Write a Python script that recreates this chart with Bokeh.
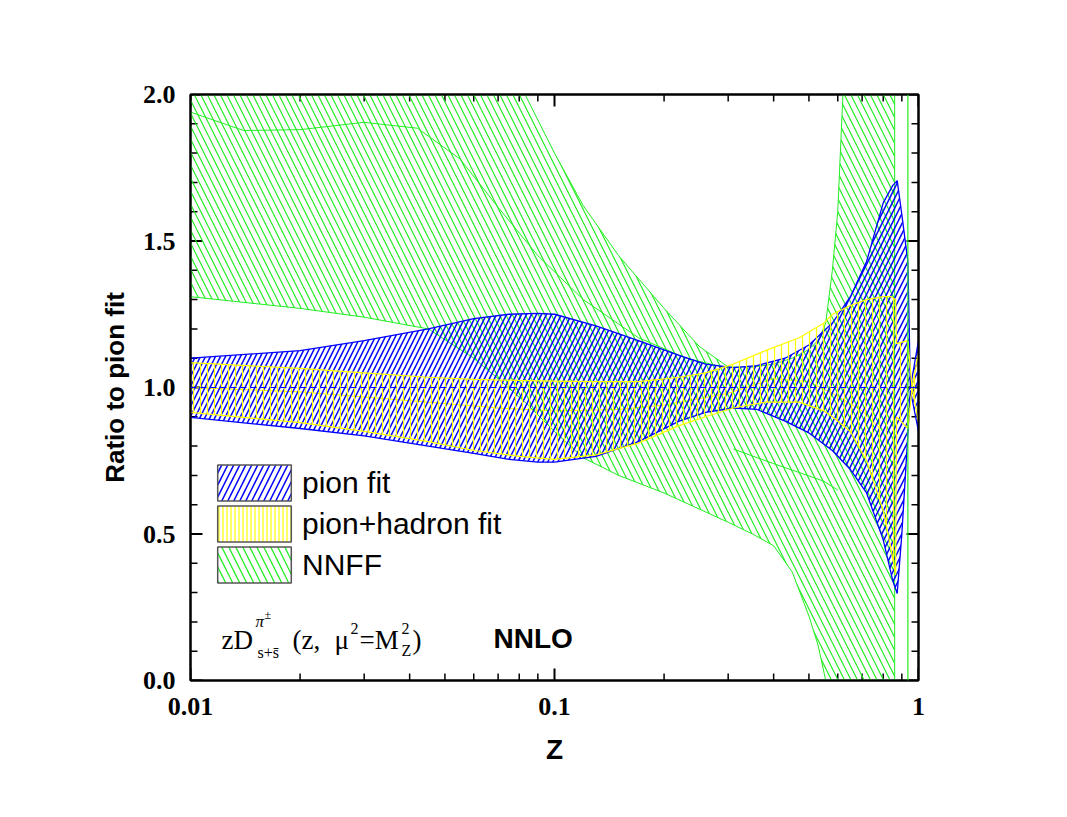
from bokeh.plotting import figure
from bokeh.models import (Range1d, LogAxis, LinearAxis, FixedTicker, Legend,
                          LegendItem, Label, Span)
from bokeh.embed import file_html
from bokeh.resources import INLINE

# ---------------- data ----------------
# pion fit band (ratio to pion fit central)
pion_z = [0.01, 0.02, 0.03, 0.045, 0.06, 0.075, 0.09, 0.1, 0.13, 0.17, 0.22, 0.26,
          0.31, 0.36, 0.43, 0.5, 0.58, 0.65, 0.72, 0.8, 0.85, 0.874, 0.9, 0.935,
          0.95, 1.0]
pion_upper = [1.10, 1.126, 1.16, 1.20, 1.235, 1.25, 1.253, 1.25, 1.21, 1.16, 1.11, 1.08,
              1.068, 1.075, 1.10, 1.145, 1.22, 1.31, 1.43, 1.63, 1.69, 1.706, 1.59, 1.43,
              1.0, 1.16]
pion_lower = [0.898, 0.86, 0.835, 0.80, 0.775, 0.755, 0.745, 0.745, 0.765, 0.815, 0.885, 0.915,
              0.93, 0.925, 0.885, 0.845, 0.785, 0.72, 0.64, 0.48, 0.34, 0.297, 0.5, 0.84,
              0.99, 0.85]
pion_central_value = 1.0

# pion+hadron fit band
ph_z = [0.01, 0.02, 0.03, 0.045, 0.06, 0.08, 0.1, 0.13, 0.17, 0.22, 0.26, 0.31, 0.38,
        0.47, 0.55, 0.58, 0.65, 0.72, 0.8, 0.84, 0.865, 0.87, 0.935, 0.96, 1.0]
ph_upper = [1.085, 1.065, 1.05, 1.035, 1.028, 1.024, 1.022, 1.02, 1.02, 1.035, 1.05, 1.08, 1.126,
            1.17, 1.22, 1.25, 1.28, 1.30, 1.31, 1.31, 1.30, 1.15, 1.16, 1.0, 1.12]
ph_lower = [0.915, 0.88, 0.85, 0.815, 0.785, 0.765, 0.755, 0.77, 0.81, 0.87, 0.90, 0.93, 0.95,
            0.95, 0.92, 0.9, 0.85, 0.75, 0.58, 0.45, 0.36, 0.9, 0.86, 1.0, 0.88]
ph_central_z = [0.01, 0.02, 0.04, 0.07, 0.1, 0.15, 0.2, 0.3, 0.4, 0.5, 0.6, 0.7, 0.8]
ph_central = [1.0, 0.985, 0.955, 0.93, 0.92, 0.925, 0.94, 0.98, 1.03, 1.02, 0.97, 0.92, 0.85]

# NNFF band (values outside 0..2 are clipped by the frame)
nnff_z = [0.01, 0.02, 0.03, 0.045, 0.06, 0.07, 0.083, 0.1, 0.12, 0.15, 0.2, 0.25, 0.3,
          0.35, 0.4, 0.45, 0.5, 0.53, 0.556, 0.58, 0.6, 0.62, 0.7, 0.8, 0.86]
nnff_upper = [2.5, 2.5, 2.5, 2.5, 2.45, 2.2, 2.0, 1.8, 1.62, 1.45, 1.27, 1.14, 1.07,
              1.07, 1.08, 1.10, 1.13, 1.16, 1.22, 1.4, 1.6, 2.0, 2.5, 2.5, 2.5]
nnff_lower = [1.31, 1.27, 1.24, 1.20, 1.10, 1.03, 0.95, 0.85, 0.76, 0.70, 0.64, 0.585, 0.54,
              0.50, 0.46, 0.37, 0.22, 0.12, 0.0, -0.3, -0.3, -0.3, -0.3, -0.3, -0.3]
nnff_inner_a_z = [0.01, 0.014, 0.02, 0.03, 0.042, 0.055, 0.07, 0.09, 0.12, 0.17, 0.23, 0.29]
nnff_inner_a = [1.94, 1.877, 1.88, 1.905, 1.885, 1.78, 1.615, 1.45, 1.3, 1.17, 1.1, 1.07]
nnff_inner_b_z = [0.31, 0.4, 0.47, 0.55, 0.6]
nnff_inner_b = [0.79, 0.74, 0.71, 0.68, 0.65]
nnff_spike_z = 0.935

# axes
x_ticks = [0.01, 0.1, 1.0]
x_tick_labels = ["0.01", "0.1", "1"]
x_minor = [0.02, 0.03, 0.04, 0.05, 0.06, 0.07, 0.08, 0.09,
           0.2, 0.3, 0.4, 0.5, 0.6, 0.7, 0.8, 0.9]
y_ticks = [0.0, 0.5, 1.0, 1.5, 2.0]
y_tick_labels = ["0.0", "0.5", "1.0", "1.5", "2.0"]
y_minor = [0.1, 0.2, 0.3, 0.4, 0.6, 0.7, 0.8, 0.9, 1.1, 1.2, 1.3, 1.4, 1.6, 1.7, 1.8, 1.9]

BLUE = "#0000ff"
YELLOW = "#ffff00"
GREEN = "#22ee22"

FW, FH = 728, 586            # frame size in px
X0, X1, Y0, Y1 = 0.01, 1.0, 0.0, 2.0
PX_DEC = FW / 2.0            # px per decade
PX_UNIT = FH / (Y1 - Y0)     # px per y unit

p = figure(x_axis_type="log", x_range=Range1d(X0, X1), y_range=Range1d(Y0, Y1),
           frame_width=FW, frame_height=FH, min_border_left=190, min_border_top=94,
           min_border_right=125, min_border_bottom=110,
           output_backend="svg", toolbar_location=None, background_fill_color="white")
p.xgrid.grid_line_color = None
p.ygrid.grid_line_color = None
p.outline_line_color = "black"
p.outline_line_width = 2

# inward tick marks on all four sides (drawn first): thin filled rects centred on
# the frame edges; the outer half of each rect is clipped away by the frame
MAJ, MIN = 12, 7
for ticks, ln, w in ((x_ticks, MAJ, 2), (x_minor, MIN, 1.5)):
    for edge in (Y0, Y1):
        p.rect(x=ticks, y=[edge] * len(ticks), width=w, height=2 * ln,
               width_units="screen", height_units="screen",
               fill_color="black", line_color=None)
for ticks, ln, w in ((y_ticks, MAJ, 2), (y_minor, MIN, 1.5)):
    for edge in (X0, X1):
        p.rect(x=[edge] * len(ticks), y=ticks, width=2 * ln, height=w,
               width_units="screen", height_units="screen",
               fill_color="black", line_color=None)


def band(z, up, lo):
    return list(z) + list(z)[::-1], list(up) + list(lo)[::-1]


nx, ny = band(nnff_z, nnff_upper, nnff_lower)
bx, by = band(pion_z, pion_upper, pion_lower)
yx, yy = band(ph_z, ph_upper, ph_lower)

p.line(nnff_inner_a_z, nnff_inner_a, line_color=GREEN, line_width=1)
p.line(nnff_inner_b_z, nnff_inner_b, line_color=GREEN, line_width=1)
p.line(ph_central_z, ph_central, line_color=YELLOW, line_width=1)

p.patch(nx, ny, fill_alpha=0, line_color=GREEN, line_width=1,
        hatch_pattern="\\", hatch_color=GREEN, hatch_scale=13, hatch_weight=1.2)
p.add_layout(Span(location=nnff_spike_z, dimension="height", line_color=GREEN, line_width=1.2))

p.patch(bx, by, fill_alpha=0, line_color=BLUE, line_width=1.3,
        hatch_pattern="/", hatch_color=BLUE, hatch_scale=10, hatch_weight=1.5)
p.add_layout(Span(location=pion_central_value, dimension="width", line_color=BLUE,
                  line_width=1, line_dash="6 4"))

p.patch(yx, yy, fill_alpha=0, line_color=YELLOW, line_width=1.2,
        hatch_pattern="|", hatch_color=YELLOW, hatch_scale=7, hatch_weight=1.2)

# legend-only renderers (same bands, hidden; grey box outline in the legend)
leg_b = p.patch(bx, by, fill_color="white", line_color="#555555", line_width=1.5,
                hatch_pattern="/", hatch_color=BLUE, hatch_scale=12, hatch_weight=1.5, visible=False)
leg_y = p.patch(yx, yy, fill_color="white", line_color="#555555", line_width=1.5,
                hatch_pattern="|", hatch_color=YELLOW, hatch_scale=4, hatch_weight=1.2, visible=False)
leg_g = p.patch(nx, ny, fill_color="white", line_color="#555555", line_width=1.5,
                hatch_pattern="\\", hatch_color=GREEN, hatch_scale=14, hatch_weight=1.3, visible=False)

legend_labels = ["pion fit", "pion+hadron fit", "NNFF"]
legend_offsets = [175, 134, 93]   # px above the frame bottom
for lab, r, off in zip(legend_labels, [leg_b, leg_y, leg_g], legend_offsets):
    lg = Legend(items=[LegendItem(label=lab, renderers=[r])],
                location=(18, off), glyph_width=92, glyph_height=45, spacing=0,
                padding=0, margin=0, label_standoff=2,
                label_text_font="Liberation Sans", label_text_font_size="30px",
                label_text_color="black", inactive_fill_alpha=0,
                border_line_alpha=0, background_fill_alpha=0)
    p.add_layout(lg)

# ---------------- axes ----------------
xt = FixedTicker(ticks=x_ticks, minor_ticks=x_minor)
yt = FixedTicker(ticks=y_ticks, minor_ticks=y_minor)

xa = p.xaxis[0]
ya = p.yaxis[0]
xa.ticker = xt
ya.ticker = yt
xa.major_label_overrides = dict(zip(x_ticks, x_tick_labels))
ya.major_label_overrides = dict(zip(y_ticks, y_tick_labels))

top = LogAxis(ticker=xt)
right = LinearAxis(ticker=yt)
top.major_label_overrides = {t: "" for t in x_ticks}
right.major_label_overrides = {t: "" for t in y_ticks}
top.major_label_text_font_size = "1px"
right.major_label_text_font_size = "1px"
p.add_layout(top, "above")
p.add_layout(right, "right")

for ax in (xa, ya, top, right):
    ax.axis_line_width = 2
    ax.major_tick_in = 0
    ax.major_tick_out = 0
    ax.minor_tick_in = 0
    ax.minor_tick_out = 0

for ax in (xa, ya):
    ax.major_label_text_font = "Liberation Serif"
    ax.major_label_text_font_style = "bold"
    ax.major_label_text_font_size = "26px"
    ax.major_label_text_color = "black"
    ax.axis_label_text_font = "Liberation Sans"
    ax.axis_label_text_font_style = "bold"
    ax.axis_label_text_color = "black"

xa.axis_label = "Z"
xa.axis_label_text_font_size = "28px"
xa.major_label_standoff = 17
xa.axis_label_standoff = 16
ya.axis_label = "Ratio to pion fit"
ya.axis_label_text_font_size = "26px"
ya.major_label_standoff = 15
ya.axis_label_standoff = 10

# ---------------- annotation texts ----------------
def px2x(px):
    return 10 ** ((px - 190.0) / PX_DEC - 2.0)


def px2y(py):
    return (680.0 - py) / PX_UNIT


def txt(px, py, s, size, font="Liberation Serif", style="normal"):
    p.add_layout(Label(x=px2x(px), y=px2y(py), text=s, text_font=font,
                       text_font_size=size, text_font_style=style,
                       text_baseline="alphabetic", text_align="left", text_color="black"))


txt(221, 639, "zD", "27px")
txt(255, 621, "\u03c0", "17px", style="italic")
txt(264, 614, "\u00b1", "12px")
txt(257, 652, "s+s\u0304", "16px")
txt(292, 639, "(z,", "27px")
txt(334, 639, "\u03bc", "27px")
txt(350, 628, "2", "16px")
txt(359, 639, "=M", "27px")
txt(401, 628, "2", "16px")
txt(401, 650, "Z", "16px")
txt(412, 639, ")", "27px")
txt(493, 638, "NNLO", "28px", font="Liberation Sans", style="bold")

open("out.html", "w").write(file_html(p, INLINE))
